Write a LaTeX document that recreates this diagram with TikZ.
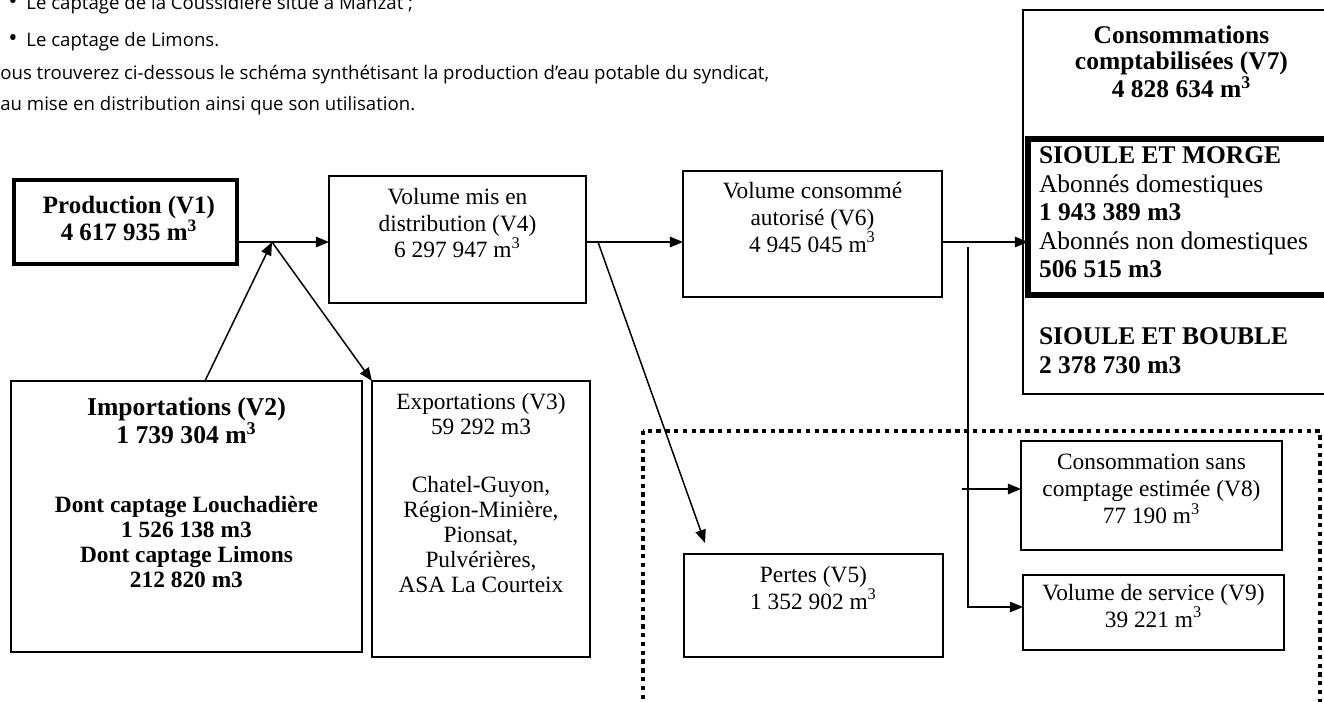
\documentclass[tikz,border=0pt]{standalone}
\usepackage{fontspec}
\setmainfont{Liberation Serif}
\newfontfamily\introfont{Open Sans}
\usetikzlibrary{positioning, arrows.meta}
\tikzstyle{flow-base} = [rectangle, draw=black, line width=0.9pt, inner sep=0, outer sep=0, anchor=north west]
\tikzstyle{flow-box} = [flow-base]
\tikzstyle{flow-thick} = [flow-base, line width=2.6pt]
\tikzstyle{flow-text} = [align=center, inner sep=0, outer sep=0,
 font=\fontsize{13.3}{15.3}\selectfont, execute at begin node=\strut]
\tikzstyle{flow-title} = [flow-text, font=\fontsize{14.2}{15.3}\selectfont\bfseries]
\tikzstyle{conso-text} = [flow-text, align=left, font=\fontsize{14.5}{16.2}\selectfont]
\tikzstyle{intro-text} = [anchor=base west, inner sep=0, font=\introfont\fontsize{10.6}{12}\selectfont]
\tikzstyle{flow-arrow} = [line width=0.85pt, -{Triangle[length=7.5pt, width=6pt]}]
\tikzstyle{zone-dotted} = [line width=2.4pt, dash pattern=on 2.5pt off 2.5pt]
\newcommand{\cubm}{m\textsuperscript{3}}
\newcommand{\introbullet}{{\fontsize{14}{12}\selectfont •}\hspace{5pt}}

\begin{document}
\begin{tikzpicture}[x=0.02cm, y=-0.02cm]
\useasboundingbox (0,0) rectangle (1324,702);
\clip (0,0) rectangle (1324,702);

% Intro text
\node (INTRO_COUSSIDIERE) [intro-text] at (8,10) {\introbullet Le captage de la Coussidière situé à Manzat ;};
\node (INTRO_LIMONS) [intro-text] at (8,47) {\introbullet Le captage de Limons.};
\node (INTRO_SCHEMA) [intro-text] at (0,80) {ous trouverez ci-dessous le schéma synthétisant la production d’eau potable du syndicat,};
\node (INTRO_DISTRIBUTION) [intro-text] at (0,111) {au mise en distribution ainsi que son utilisation.};

% Losses zone
\draw[zone-dotted] (643,431) rectangle (1320,760);

% Production and distribution
\node (PRODUCTION) [flow-thick, minimum width=4.46cm, minimum height=1.68cm] at (14,180) {};
\node (PRODUCTION_TEXT) [flow-title, below=0.32cm of PRODUCTION.north, xshift=0.07cm] {Production (V1)\\4 617 935 \cubm};

\node (V4) [flow-box, minimum width=5.14cm, minimum height=2.54cm] at (329,176) {};
\node (V4_TEXT) [flow-text, below=0.24cm of V4.north] {Volume mis en\\distribution (V4)\\6 297 947 \cubm};

\node (V6) [flow-box, minimum width=5.18cm, minimum height=2.52cm] at (683,171) {};
\node (V6_TEXT) [flow-text, below=0.22cm of V6.north] {Volume consommé\\autorisé (V6)\\4 945 045 \cubm};

% Imports and exports
\node (IMPORTATIONS) [flow-box, minimum width=7.02cm, minimum height=5.42cm] at (11,381) {};
\node (IMPORTATIONS_TEXT) [flow-text, font=\fontsize{13.3}{14.2}\selectfont\bfseries, below=0.33cm of IMPORTATIONS.north]
 {{\fontsize{14.6}{14.2}\selectfont Importations (V2)}\\{\fontsize{14.6}{14.2}\selectfont 1 739 304 \cubm}\\[25pt]Dont captage Louchadière\\1 526 138 m3\\Dont captage Limons\\212 820 m3};

\node (EXPORTATIONS) [flow-box, minimum width=4.36cm, minimum height=5.52cm] at (372,381) {};
\node (EXPORTATIONS_TEXT) [flow-text, font=\fontsize{13.3}{14.2}\selectfont, below=0.25cm of EXPORTATIONS.north]
 {Exportations (V3)\\59 292 m3\\[19pt]Chatel-Guyon,\\Région-Minière,\\Pionsat,\\Pulvérières,\\ASA La Courteix};

% Losses and other uses
\node (PERTES) [flow-box, minimum width=5.18cm, minimum height=2.06cm] at (684,554) {};
\node (PERTES_TEXT) [flow-text, below=0.24cm of PERTES.north] {Pertes (V5)\\1 352 902 \cubm};

\node (V8) [flow-box, minimum width=5.22cm, minimum height=2.18cm] at (1021,441) {};
\node (V8_TEXT) [flow-text, below=0.26cm of V8.north] {Consommation sans\\comptage estimée (V8)\\77 190 \cubm};

\node (V9) [flow-box, minimum width=5.22cm, minimum height=1.5cm] at (1023,575) {};
\node (V9_TEXT) [flow-text, below=0.18cm of V9.north] {Volume de service (V9)\\39 221 \cubm};

% Metered consumption
\node (CONSO) [flow-box, minimum width=6.34cm, minimum height=7.68cm] at (1023,10) {};
\node (CONSO_TEXT) [flow-text, font=\fontsize{14.5}{14.5}\selectfont\bfseries, below=0.32cm of CONSO.north]
 {Consommations\\comptabilisées (V7)\\4 828 634 \cubm};

\node (MORGE) [flow-thick, line width=2.9pt, minimum width=6.24cm, minimum height=3.12cm] at (1028,139) {};
\node (MORGE_TEXT) [conso-text, below right=0.16cm and 0.22cm of MORGE.north west]
 {\textbf{SIOULE ET MORGE}\\Abonnés domestiques\\\textbf{1 943 389 m3}\\Abonnés non domestiques\\\textbf{506 515 m3}};
\node (BOUBLE_TEXT) [conso-text, below right=0.66cm and 0.22cm of MORGE.south west]
 {\textbf{SIOULE ET BOUBLE}\\\textbf{2 378 730 m3}};

% Arrows
\coordinate (JUNCTION) at (272,242);
\coordinate (LEAK_START) at (598,242);
\coordinate (SPLIT_TOP) at (968,247);
\coordinate (SPLIT_MID) at (962,489);

\draw[flow-arrow] (PRODUCTION.east |- JUNCTION) -- (V4.west |- JUNCTION);
\draw[flow-arrow] ([xshift=0.37cm]IMPORTATIONS.north) -- (JUNCTION);
\draw[flow-arrow] (JUNCTION) -- (EXPORTATIONS.north west);
\draw[flow-arrow] (V4.east |- JUNCTION) -- (V6.west |- JUNCTION);
\draw[flow-arrow] (LEAK_START) -- ([xshift=0.42cm, yshift=0.22cm]PERTES.north west);
\draw[flow-arrow] (V6.east |- JUNCTION) -- (MORGE.west |- JUNCTION);
\draw[flow-arrow] (SPLIT_TOP) |- ([yshift=0.11cm]V9.west);
\draw[flow-arrow] (SPLIT_MID) -- (SPLIT_MID -| V8.west);

\end{tikzpicture}
\end{document}
